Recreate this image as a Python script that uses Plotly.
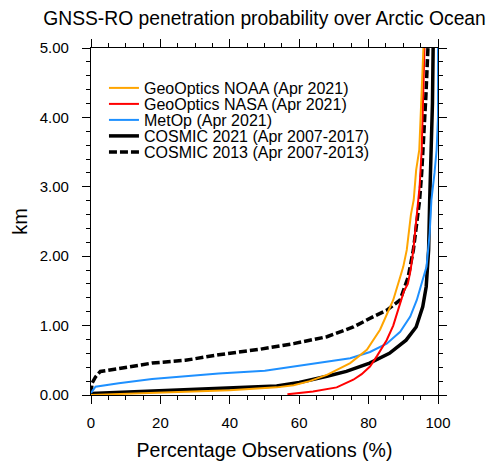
import plotly.graph_objects as go

# ---- data (percentage observations, height km) ----
noaa_pct = [0, 20, 40, 53.5, 58.4, 63, 68, 74.7, 79.5, 83.3, 86.2, 87.1, 89.1, 90, 91, 91.5, 92.2, 93, 93.7, 94.6, 95.2, 95.8]
noaa_km = [0.0, 0.04, 0.07, 0.11, 0.14, 0.2, 0.29, 0.46, 0.65, 0.94, 1.25, 1.37, 1.7, 1.85, 2.09, 2.33, 2.6, 2.81, 3.24, 3.53, 4.2, 5.0]

nasa_pct = [56.6, 64, 70.8, 75.6, 78, 80.4, 82.4, 85.2, 87.1, 88.6, 89.4, 90.2, 91.3, 92.1, 92.9, 93.9, 94.7, 95.3, 95.7, 96.1]
nasa_km = [0.01, 0.05, 0.11, 0.22, 0.3, 0.41, 0.56, 0.79, 1.0, 1.22, 1.37, 1.5, 1.6, 1.8, 2.09, 2.6, 3.0, 3.53, 4.2, 5.0]

metop_pct = [0, 1.3, 8, 17.6, 27.2, 36.8, 50.1, 58.3, 67.9, 74.7, 80.4, 85.2, 89.1, 92, 93.9, 95.3, 96.7, 97.6, 98.1, 99.0, 99.6, 100, 100]
metop_km = [0.03, 0.12, 0.17, 0.23, 0.27, 0.31, 0.35, 0.41, 0.48, 0.53, 0.62, 0.74, 0.91, 1.13, 1.37, 1.6, 1.85, 2.33, 2.81, 3.2, 3.53, 4.0, 5.0]

c21_pct = [0, 10, 20, 30, 40, 50, 53.5, 60, 64, 68, 73.6, 80.3, 86, 90.8, 93.7, 95.6, 96.6, 97.3, 97.6, 98.0, 98.4, 98.6]
c21_km = [0.02, 0.04, 0.06, 0.08, 0.1, 0.12, 0.13, 0.18, 0.22, 0.27, 0.34, 0.46, 0.6, 0.79, 0.98, 1.27, 1.56, 2.09, 2.8, 3.4, 4.2, 5.0]

c13_pct = [0, 0.3, 1.3, 2.7, 8, 17.6, 27.2, 36.8, 48.8, 58.4, 68, 75.6, 81.4, 85.2, 89.1, 91.4, 92.9, 93.9, 94.7, 95.3, 95.8, 96.5, 97.1]
c13_km = [0.02, 0.17, 0.26, 0.34, 0.38, 0.46, 0.5, 0.58, 0.66, 0.74, 0.84, 0.98, 1.13, 1.22, 1.37, 1.7, 2.09, 2.52, 2.81, 3.2, 3.6, 4.3, 5.0]

names = ["GeoOptics NOAA (Apr 2021)", "GeoOptics NASA (Apr 2021)", "MetOp (Apr 2021)",
         "COSMIC 2021 (Apr 2007-2017)", "COSMIC 2013 (Apr 2007-2013)"]

x_ticks = [0, 20, 40, 60, 80, 100]
y_ticks = [0, 1, 2, 3, 4, 5]

# page has an 8px body margin: figure is drawn from (8, 8)
OFF = 8
W, H = 495 - OFF, 462 - OFF
L, R, T, B = 90.5 - OFF, 56.5, 48 - OFF, 67
pw = W - L - R
ph = H - T - B

font = "Liberation Sans, Arial, Helvetica, sans-serif"

fig = go.Figure()

# draw order: dashed, solid black, blue, red, orange
series = [
    (c13_pct, c13_km, names[4], "black", 3.5, "8px,3px", "legend5"),
    (c21_pct, c21_km, names[3], "black", 3.5, "solid", "legend4"),
    (metop_pct, metop_km, names[2], "#1E90FF", 2, "solid", "legend3"),
    (nasa_pct, nasa_km, names[1], "#FF0000", 2, "solid", "legend2"),
    (noaa_pct, noaa_km, names[0], "#FFA500", 2, "solid", "legend"),
]
for xs, ys, nm, col, w, dash, lg in series:
    fig.add_trace(go.Scatter(x=xs, y=ys, name=nm, mode="lines",
                             line=dict(color=col, width=w, dash=dash),
                             legend=lg, cliponaxis=True))

row_px = [88, 104, 120, 136, 152]           # page pixel rows of legend entries
legend_left_page = 103.5
legend_x = (legend_left_page - OFF - L) / pw
layout_legends = {}
keys = ["legend", "legend2", "legend3", "legend4", "legend5"]
for k, py in zip(keys, row_px):
    layout_legends[k] = dict(
        x=legend_x, xref="paper", xanchor="left",
        y=(H - B - (py - OFF)) / ph, yref="paper", yanchor="middle",
        bgcolor="rgba(0,0,0,0)", borderwidth=0,
        font=dict(family=font, size=16, color="black"),
        itemwidth=30,
    )

fig.update_layout(
    width=W, height=H,
    margin=dict(l=L, r=R, t=T, b=B, autoexpand=False),
    paper_bgcolor="white", plot_bgcolor="white",
    font=dict(family=font, color="black"),
    title=dict(text="GNSS-RO penetration probability over Arctic Ocean",
               x=(L + pw / 2) / W, xanchor="center",
               y=1 - (18 - OFF) / H, yanchor="middle", yref="container",
               font=dict(family=font, size=19.3, color="black")),
    showlegend=True,
    **layout_legends,
)

fig.update_xaxes(
    range=[0, 100], tickvals=x_ticks, ticktext=[str(v) for v in x_ticks],
    showgrid=False, zeroline=False, automargin=False,
    showline=True, linecolor="black", linewidth=1.3, mirror="allticks",
    ticks="outside", ticklen=8, tickwidth=1.2, tickcolor="black",
    minor=dict(dtick=5, ticks="outside", ticklen=4, tickwidth=1, tickcolor="black", showgrid=False),
    tickfont=dict(family=font, size=15, color="black"),
    ticklabelstandoff=6,
    title=dict(text="Percentage Observations (%)", font=dict(family=font, size=19.5, color="black"), standoff=13),
)
fig.update_yaxes(
    range=[0, 5], tickvals=y_ticks, ticktext=[f"{v:.2f}" for v in y_ticks],
    showgrid=False, zeroline=False, automargin=False,
    showline=True, linecolor="black", linewidth=1.3, mirror="allticks",
    ticks="outside", ticklen=8, tickwidth=1.2, tickcolor="black",
    minor=dict(dtick=0.2, ticks="outside", ticklen=4, tickwidth=1, tickcolor="black", showgrid=False),
    tickfont=dict(family=font, size=15, color="black"),
    ticklabelstandoff=10,
    title=dict(text="km", font=dict(family=font, size=20, color="black"), standoff=6),
)

fig.write_html("out.html")
